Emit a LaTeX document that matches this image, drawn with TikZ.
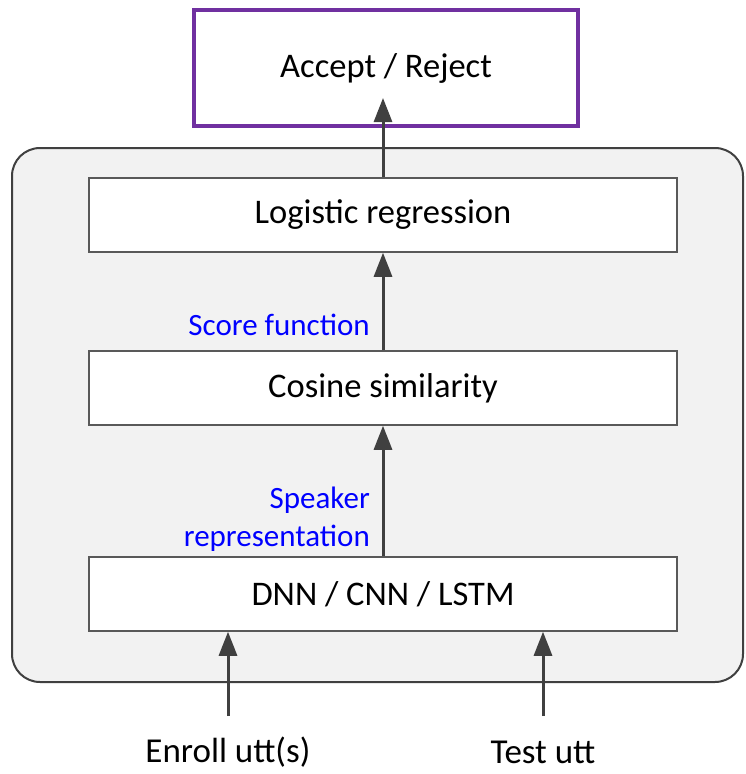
\documentclass[tikz,border=0pt]{standalone}
\usepackage{fontspec}
\setmainfont{Carlito}
\usetikzlibrary{arrows.meta}
\definecolor{arrowgray}{HTML}{404040}
\definecolor{boxgray}{HTML}{595959}
\definecolor{panelgray}{HTML}{F2F2F2}
\definecolor{decisionpurple}{HTML}{7030A0}
\tikzset{
  block/.style={draw=boxgray,line width=1.5pt,fill=white,minimum width=588pt,minimum height=74pt,font=\fontsize{34.5}{40}\selectfont},
  flow/.style={draw=arrowgray,line width=3pt,-{Triangle[width=18pt,length=24pt]}},
  tag/.style={text=blue,font=\fontsize{31}{38}\selectfont,anchor=east,inner sep=0pt},
  io/.style={font=\fontsize{35}{40}\selectfont,inner sep=0pt}
}
\begin{document}
\begin{tikzpicture}[x=1pt,y=-1pt]
\useasboundingbox (0,0) rectangle (745,774);
% 外枠
\draw[arrowgray,line width=2pt,fill=panelgray,rounded corners=28pt] (12,148) rectangle (743,682);
% 判定
\node[draw=decisionpurple,line width=4pt,minimum width=384pt,minimum height=116pt,font=\fontsize{34.5}{40}\selectfont] (decision) at (386,68) {Accept / Reject};
% ブロック
\node[block] (logreg) at (383,215) {Logistic regression};
\node[block] (cosine) at (383,388) {Cosine similarity};
\node[block] (dnn) at (383,594) {DNN / CNN / LSTM};
% 入力
\node[io] (enroll) at (228,752) {Enroll utt(s)};
\node[io] (test) at (543,752) {Test utt};
\coordinate (enrollin) at (228,716);
\coordinate (testin) at (543,716);
% 矢印
\draw[flow] (enrollin) -- (enrollin |- dnn.south);
\draw[flow] (testin) -- (testin |- dnn.south);
\draw[flow] (dnn.north) -- (cosine.south);
\draw[flow] (cosine.north) -- (logreg.south);
\draw[flow] (logreg.north) -- ([yshift=30pt]decision.south -| logreg.north);
% ラベル
\node[tag] (score) at (370,325) {Score function};
\node[tag] (speaker) at (370,500) {Speaker};
\node[tag] (repr) at (370,538) {representation};
\end{tikzpicture}
\end{document}
